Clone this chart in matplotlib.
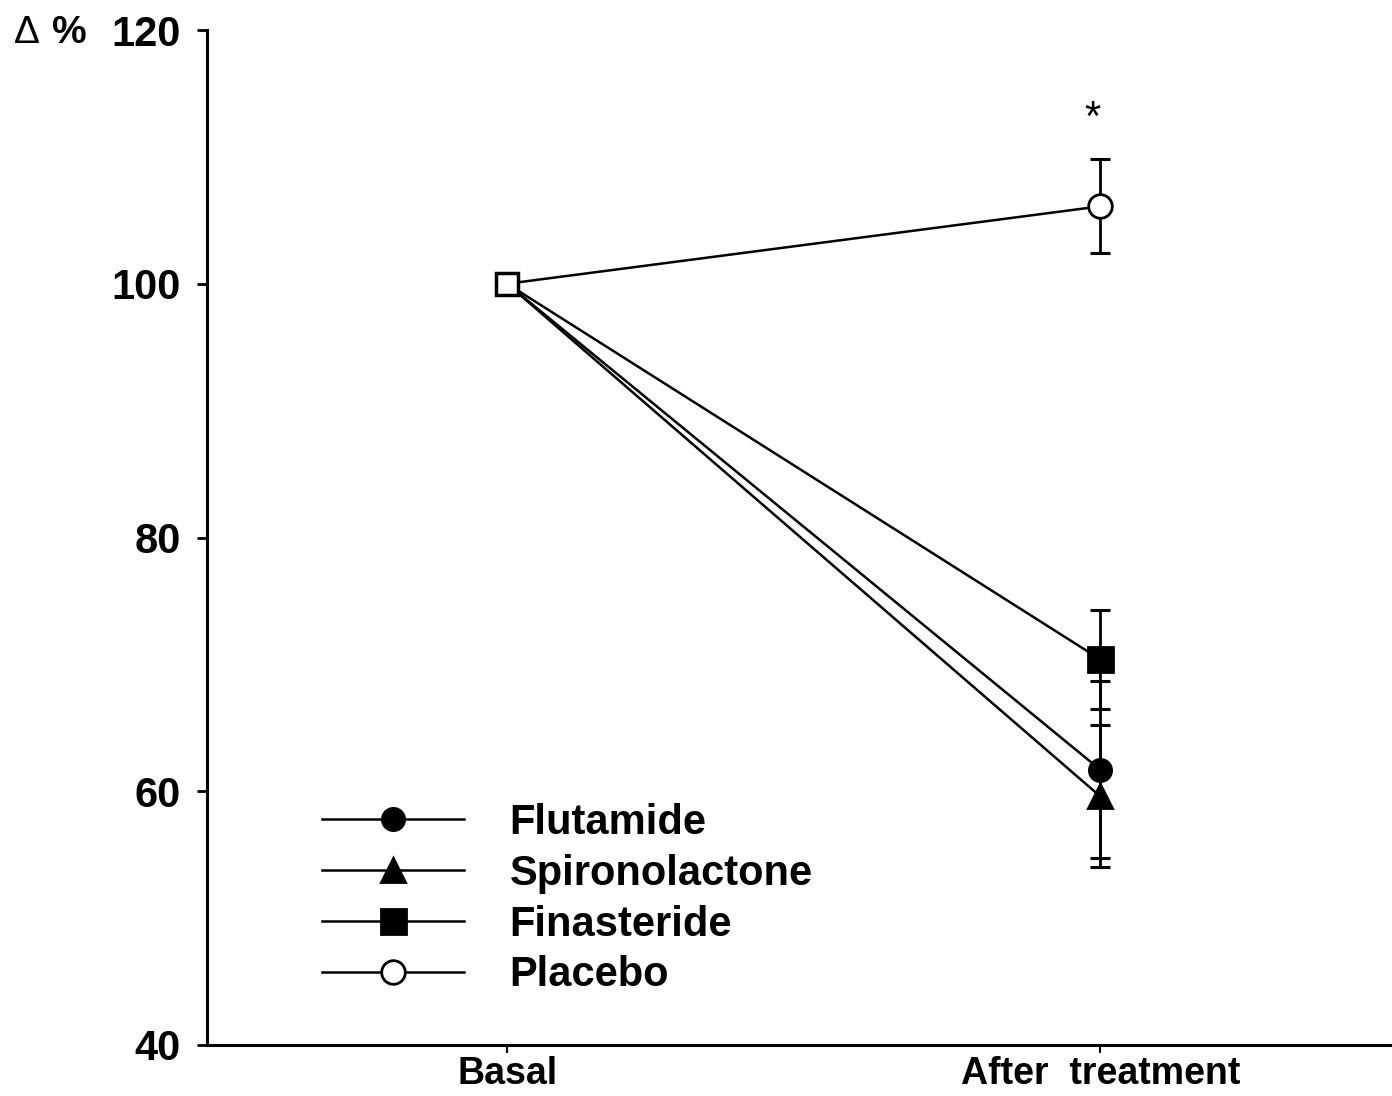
import matplotlib.pyplot as plt
import numpy as np

# values (percent of basal)
categories = ["Basal", "After  treatment"]
names = ["Flutamide", "Spironolactone", "Finasteride", "Placebo"]
flutamide = [100, 61.7]
spironolactone = [100, 59.6]
finasteride = [100, 70.4]
placebo = [100, 106.1]
sem_after = [7.0, 5.6, 3.9, 3.7]
markers = ["o", "^", "s", "o"]
msizes = [16, 17, 18, 17]
faces = ["black", "black", "black", "white"]

series = [flutamide, spironolactone, finasteride, placebo]
xpos = np.arange(len(categories))

plt.rcParams["font.family"] = ["Liberation Sans", "DejaVu Sans"]
plt.rcParams["font.weight"] = "bold"

fig = plt.figure(figsize=(13.92, 10.96), dpi=100)
ax = fig.add_axes([207 / 1392, 1 - 1045 / 1096, 1 - 207 / 1392, (1045 - 30) / 1096])

for name, vals, m, ms, fc, s in zip(names, series, markers, msizes, faces, sem_after):
    ax.plot(xpos, vals, color="black", lw=1.8, marker=m, ms=ms, mfc=fc,
            mec="black", mew=2, markevery=[1], label=name, zorder=3)
    ax.errorbar(xpos[1], vals[1], yerr=s, fmt="none", ecolor="black",
                elinewidth=2, capsize=7, capthick=2.2, zorder=2)

# shared basal point
ax.plot(xpos[0], placebo[0], "s", ms=16, mfc="white", mec="black", mew=2.5, zorder=4)

# significance mark
ax.text(xpos[1] - 0.013, placebo[1] + sem_after[3] + 3.2, "*", ha="center", va="center",
        fontsize=30, fontweight="normal")

ax.set_xlim(-0.506, 1.492)
ax.set_ylim(40, 120)
ax.set_yticks([40, 60, 80, 100, 120])
ax.set_yticklabels(["40", "60", "80", "100", "120"], fontsize=30, fontweight="bold")
ax.set_xticks(xpos)
ax.set_xticklabels(categories, fontsize=27, fontweight="bold")

ax.spines["top"].set_visible(False)
ax.spines["right"].set_visible(False)
ax.spines["left"].set_linewidth(2.2)
ax.spines["bottom"].set_linewidth(2.2)
ax.tick_params(axis="y", direction="out", length=7, width=2, pad=12)
ax.tick_params(axis="x", direction="out", length=6, width=1.5, pad=2)

fig.text(14 / 1392, 1 - 33 / 1096, "\u0394", fontsize=28, fontweight="normal", va="center")
fig.text(52 / 1392, 1 - 33 / 1096, "%", fontsize=28, fontweight="bold", va="center")

leg = ax.legend(loc="upper left", bbox_to_anchor=(322 / 1392, 1 - 803 / 1096),
                bbox_transform=fig.transFigure, frameon=False, fontsize=30,
                handlelength=3.4, handletextpad=1.1, labelspacing=0.26,
                borderpad=0, borderaxespad=0)

plt.savefig("out.png", dpi=100)
